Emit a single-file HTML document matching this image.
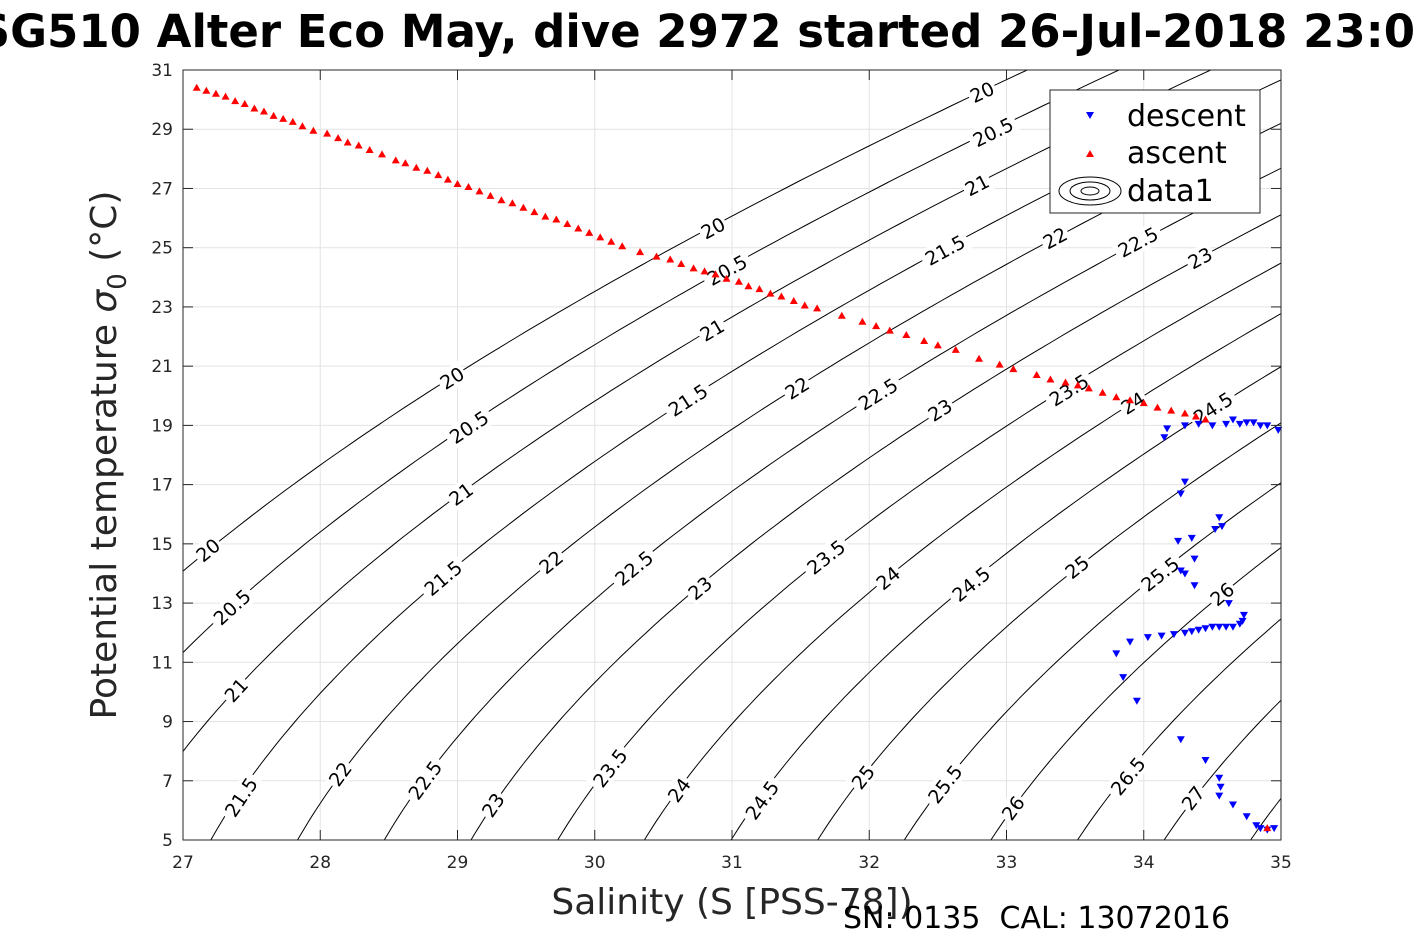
<!DOCTYPE html>
<html><head><meta charset="utf-8"><style>
body{margin:0;background:#fff;}
svg{display:block;font-family:"DejaVu Sans","Liberation Sans",sans-serif;}
</style></head><body>
<svg id="chart" width="1417" height="945" viewBox="0 0 1417 945">
<defs><clipPath id="plotclip"><rect x="183" y="70" width="1098" height="770"/></clipPath></defs>
<rect x="183" y="70" width="1098" height="770" fill="#fff"/>
<g id="grid"></g>
<g id="contours" clip-path="url(#plotclip)"></g>
<g id="clabels"></g>
<g id="marks"></g>
<rect x="183" y="70" width="1098" height="770" fill="none" stroke="#262626" stroke-width="1"/>
<g id="ticks"></g>
<text x="712" y="47" text-anchor="middle" font-size="45" font-weight="bold" fill="#000">SG510 Alter Eco May, dive 2972 started 26-Jul-2018 23:07</text>
<text x="732" y="914" text-anchor="middle" font-size="36" fill="#262626">Salinity (S [PSS-78])</text>
<text transform="translate(116,455) rotate(-90)" text-anchor="middle" font-size="36" fill="#262626">Potential temperature <tspan font-style="italic">σ</tspan><tspan dy="10" font-size="26">0</tspan><tspan dy="-10"> (°C)</tspan></text>
<text x="843" y="928" font-size="30" fill="#000" style="white-space:pre" xml:space="preserve">SN: 0135  CAL: 13072016</text>
<g>
<rect x="1050" y="90" width="210" height="123" fill="#fff" stroke="#262626" stroke-width="1"/>
<path d="M1086,112 L1094,112 L1090,119 Z" fill="#00f"/>
<text x="1127" y="126" font-size="30" fill="#000">descent</text>
<path d="M1086,157 L1094,157 L1090,150 Z" fill="#f00"/>
<text x="1127" y="163" font-size="30" fill="#000">ascent</text>
<g fill="none" stroke="#000" stroke-width="1">
<ellipse cx="1090" cy="191" rx="31" ry="14"/><ellipse cx="1090" cy="191" rx="20" ry="9"/><ellipse cx="1090" cy="191" rx="9" ry="4"/></g>
<text x="1127" y="201" font-size="30" fill="#000">data1</text>
</g>
</svg>
<script>
const xTicks=[27,28,29,30,31,32,33,34,35];
const yTicks=[5,7,9,11,13,15,17,19,21,23,25,27,29,31];
const levels=[20,20.5,21,21.5,22,22.5,23,23.5,24,24.5,25,25.5,26,26.5,27,27.5];
const labelText=["20","20","20","20","20.5","20.5","20.5","20.5","21","21","21","21","21.5","21.5","21.5","21.5","22","22","22","22","22.5","22.5","22.5","22.5","23","23","23","23","23.5","23.5","23.5","24","24","24","24.5","24.5","24.5","25","25","25.5","25.5","26","26","26.5","27"];
const labelPx=[[982,92],[713,228],[452,378],[208,550],[993,132],[727,270],[469,427],[232,607],[977,185],[712,330],[461,494],[236,690],[945,250],[688,400],[443,578],[241,797],[1055,238],[797,388],[551,562],[340,774],[1138,242],[878,394],[634,568],[425,780],[1200,258],[940,410],[700,588],[493,805],[1069,390],[826,557],[610,768],[1133,403],[888,578],[679,790],[1213,408],[971,584],[762,800],[1077,567],[863,777],[1160,574],[945,784],[1222,594],[1013,808],[1128,776],[1193,798]];
const ascS=[27.1,27.17,27.24,27.31,27.38,27.45,27.52,27.59,27.66,27.73,27.8,27.87,27.95,28.05,28.13,28.2,28.28,28.36,28.45,28.55,28.62,28.7,28.78,28.86,28.93,29.0,29.08,29.16,29.24,29.32,29.4,29.48,29.56,29.64,29.72,29.8,29.88,29.96,30.04,30.12,30.2,30.33,30.45,30.55,30.63,30.72,30.8,30.88,30.96,31.05,31.12,31.2,31.28,31.36,31.45,31.53,31.62,31.8,31.95,32.05,32.15,32.27,32.4,32.5,32.63,32.8,32.95,33.05,33.22,33.32,33.43,33.52,33.6,33.7,33.8,33.9,34.0,34.1,34.2,34.3,34.38,34.45,34.9];
const ascT=[30.4,30.3,30.2,30.1,29.95,29.85,29.7,29.6,29.45,29.35,29.25,29.1,28.95,28.85,28.7,28.55,28.45,28.3,28.15,27.95,27.85,27.7,27.6,27.45,27.3,27.15,27.05,26.9,26.75,26.6,26.5,26.35,26.2,26.05,25.95,25.8,25.65,25.5,25.35,25.2,25.05,24.85,24.7,24.6,24.45,24.3,24.2,24.1,23.95,23.85,23.7,23.6,23.45,23.35,23.2,23.05,22.95,22.7,22.5,22.35,22.2,22.05,21.85,21.7,21.55,21.25,21.05,20.9,20.7,20.55,20.45,20.35,20.25,20.1,19.95,19.85,19.75,19.6,19.5,19.4,19.3,19.2,5.4];
const desS=[34.15,34.17,34.3,34.4,34.5,34.6,34.65,34.7,34.75,34.8,34.85,34.9,34.98,34.3,34.27,34.55,34.57,34.52,34.35,34.25,34.37,34.27,34.3,34.37,34.62,34.73,34.72,34.7,34.65,34.6,34.55,34.5,34.45,34.4,34.35,34.3,34.22,34.13,34.03,33.9,33.8,33.85,33.95,34.27,34.45,34.55,34.56,34.55,34.65,34.75,34.82,34.85,34.9,34.95];
const desT=[18.6,18.9,19.0,19.05,19.0,19.05,19.2,19.05,19.1,19.1,19.0,19.0,18.85,17.1,16.7,15.9,15.6,15.5,15.2,15.1,14.5,14.1,14.0,13.6,13.0,12.6,12.4,12.3,12.2,12.2,12.2,12.2,12.15,12.1,12.05,12.0,11.95,11.9,11.85,11.7,11.3,10.5,9.7,8.4,7.7,7.1,6.8,6.5,6.2,5.8,5.5,5.4,5.35,5.4];

const NS="http://www.w3.org/2000/svg";
const X0=183,X1=1281,Y0=840,Y1=70;
function xs(s){return X0+(s-27)/(35-27)*(X1-X0);}
function ys(t){return Y0-(t-5)/(31-5)*(Y0-Y1);}
function sx(px){return 27+(px-X0)/(X1-X0)*8;}
function ty(py){return 5+(Y0-py)/(Y0-Y1)*26;}
function sigma(S,T){
 const rw=999.842594+6.793952e-2*T-9.095290e-3*T*T+1.001685e-4*T**3-1.120083e-6*T**4+6.536332e-9*T**5;
 const A=0.824493-4.0899e-3*T+7.6438e-5*T*T-8.2467e-7*T**3+5.3875e-9*T**4;
 const B=-5.72466e-3+1.0227e-4*T-1.6546e-6*T*T;
 return rw+A*S+B*Math.pow(S,1.5)+4.8314e-4*S*S-1000;
}
function el(tag,attrs,parent){const e=document.createElementNS(NS,tag);for(const k in attrs)e.setAttribute(k,attrs[k]);parent.appendChild(e);return e;}
const grid=document.getElementById('grid'),ticks=document.getElementById('ticks');
xTicks.forEach(v=>{
 el('line',{x1:xs(v),x2:xs(v),y1:Y0,y2:Y1,stroke:'#e3e3e3','stroke-width':1},grid);
 el('line',{x1:xs(v),x2:xs(v),y1:Y0,y2:Y0-10,stroke:'#262626'},ticks);
 el('line',{x1:xs(v),x2:xs(v),y1:Y1,y2:Y1+10,stroke:'#262626'},ticks);
 const t=el('text',{x:xs(v),y:Y0+28,'text-anchor':'middle','font-size':17,fill:'#262626'},ticks);
 
 
 t.textContent=v;
});
yTicks.forEach(v=>{
 el('line',{x1:X0,x2:X1,y1:ys(v),y2:ys(v),stroke:'#e3e3e3','stroke-width':1},grid);
 el('line',{x1:X0,x2:X0+10,y1:ys(v),y2:ys(v),stroke:'#262626'},ticks);
 el('line',{x1:X1,x2:X1-10,y1:ys(v),y2:ys(v),stroke:'#262626'},ticks);
 const t=el('text',{x:X0-10,y:ys(v)+6,'text-anchor':'end','font-size':17,fill:'#262626'},ticks);
 
 
 t.textContent=v;
});
const cg=document.getElementById('contours');
levels.forEach(L=>{
 const pts=[];
 for(let T=3;T<=33;T+=0.2){
  let lo=0,hi=45;
  for(let i=0;i<50;i++){const m=(lo+hi)/2; if(sigma(m,T)<L)lo=m;else hi=m;}
  pts.push(xs((lo+hi)/2).toFixed(1)+','+ys(T).toFixed(1));
 }
 const p=el('polyline',{points:pts.join(' '),fill:'none',stroke:'#000','stroke-width':1},cg);
 
 
});
const lg=document.getElementById('clabels');
labelPx.forEach((p,i)=>{
 const S=sx(p[0]),T=ty(p[1]),h=0.01;
 const gS=(sigma(S+h,T)-sigma(S-h,T))/(2*h), gT=(sigma(S,T+h)-sigma(S,T-h))/(2*h);
 let dx=-gT*137.25, dy=-gS*29.615;
 let ang=Math.atan2(dy,dx)*180/Math.PI;
 if(ang>90)ang-=180; if(ang<-90)ang+=180;
 const g=el('g',{transform:`translate(${p[0]},${p[1]}) rotate(${ang.toFixed(1)})`},lg);
 
 
 const w=labelText[i].length*11+6;
 el('rect',{x:-w/2,y:-11,width:w,height:22,fill:'#fff'},g);
 const t=el('text',{x:0,y:7,'text-anchor':'middle','font-size':19,fill:'#000'},g);
 t.textContent=labelText[i];
});
const mg=document.getElementById('marks');
desS.forEach((s,i)=>{
 const x=xs(s),y=ys(desT[i]);
 const m=el('path',{d:`M${x-4},${y-3} L${x+4},${y-3} L${x},${y+4} Z`,fill:'#00f'},mg);
 
 
});
ascS.forEach((s,i)=>{
 const x=xs(s),y=ys(ascT[i]);
 const m=el('path',{d:`M${x-4},${y+3} L${x+4},${y+3} L${x},${y-4} Z`,fill:'#f00'},mg);
 
 
});
</script>
</body></html>
